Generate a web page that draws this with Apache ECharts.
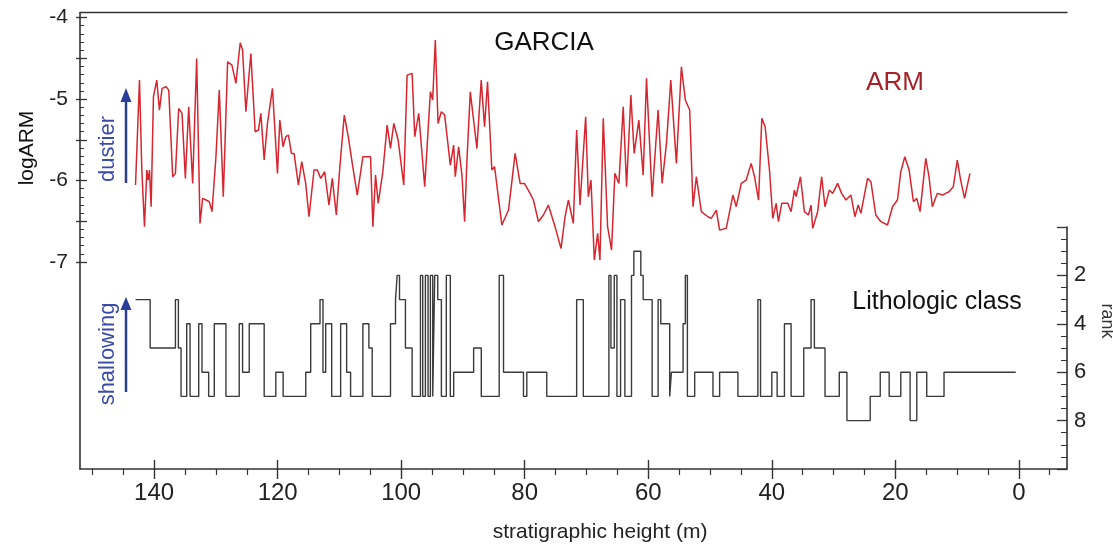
<!DOCTYPE html>
<html>
<head>
<meta charset="utf-8">
<script src="https://cdn.jsdelivr.net/npm/echarts@6/dist/echarts.min.js"></script>
<style>html,body{margin:0;padding:0;background:#fff}#c{width:1113px;height:545px}</style>
</head>
<body>
<div id="c"></div>
<script>
// ARM record (stratigraphic height in m, logARM)
const armHeight = [143.01,142.37,141.99,141.56,141.18,140.97,140.75,140.48,140.11,139.57,139.14,138.71,138.06,137.63,136.99,136.55,136.02,135.48,134.94,134.40,133.76,133.11,132.57,132.14,131.60,131.06,130.63,129.99,129.45,128.80,128.10,127.40,126.76,126.06,125.68,125.14,124.34,123.64,123.10,122.72,122.18,121.65,120.84,120.03,119.65,119.12,118.69,118.25,117.77,117.34,116.64,116.10,115.46,114.92,114.11,113.57,113.03,112.39,111.69,111.15,110.50,109.97,109.21,108.57,107.92,107.11,106.20,105.50,104.96,104.58,104.15,103.72,102.97,102.27,101.73,101.19,100.49,99.58,99.04,98.23,97.80,97.16,96.19,95.27,94.90,94.47,94.03,93.50,92.96,92.04,91.50,91.24,90.70,90.16,89.73,89.35,88.81,87.74,87.04,86.50,86.02,85.32,84.88,83.70,82.62,81.55,80.74,80.04,79.13,78.59,77.78,76.97,76.17,75.09,74.12,73.47,72.93,72.13,71.59,71.05,70.13,69.70,69.27,68.73,68.19,67.82,67.28,66.58,65.94,65.40,64.75,64.05,63.51,62.81,62.28,61.52,60.82,60.28,59.37,58.40,57.75,57.05,56.35,55.44,54.63,53.99,53.29,52.75,52.21,51.40,50.33,49.79,48.98,48.44,47.37,46.29,45.75,44.94,44.14,43.33,42.79,42.52,42.14,41.61,41.07,40.37,39.83,39.29,38.92,38.38,37.41,36.87,36.33,36.06,35.36,34.72,34.07,33.64,33.37,32.57,31.92,31.38,30.68,30.14,29.34,28.69,27.99,27.18,26.54,26.00,25.57,24.49,23.95,23.15,22.34,21.26,20.45,19.65,19.11,18.46,17.76,17.06,16.53,15.99,15.07,14.54,14.00,13.19,12.38,11.31,10.61,9.96,9.42,8.78,7.92];
const armValue = [-6.055,-4.767,-5.871,-6.566,-5.871,-5.994,-5.871,-6.321,-4.971,-4.767,-5.135,-4.869,-4.849,-4.890,-5.953,-5.912,-5.115,-5.176,-5.973,-5.094,-6.035,-4.501,-6.526,-6.219,-6.239,-6.260,-6.382,-5.708,-4.890,-6.198,-4.542,-4.583,-4.808,-4.309,-4.399,-5.155,-4.440,-5.401,-5.380,-5.176,-5.748,-5.299,-4.869,-5.912,-5.258,-5.585,-5.462,-5.442,-5.667,-5.667,-6.055,-5.769,-6.035,-6.444,-5.871,-5.871,-5.973,-5.892,-6.301,-5.973,-6.423,-5.871,-5.196,-5.462,-5.789,-6.178,-5.708,-5.708,-5.708,-6.566,-5.933,-6.280,-5.892,-5.319,-5.605,-5.299,-5.503,-6.055,-4.706,-4.685,-5.462,-5.176,-6.076,-4.910,-5.012,-4.276,-5.299,-5.155,-5.196,-5.810,-5.564,-5.953,-5.585,-5.933,-6.505,-5.748,-4.910,-5.605,-4.767,-5.340,-4.787,-5.871,-5.830,-6.546,-6.362,-5.667,-6.035,-6.035,-6.157,-6.239,-6.505,-6.423,-6.301,-6.566,-6.833,-6.444,-6.239,-6.526,-5.380,-6.301,-5.217,-6.198,-5.994,-6.976,-6.648,-6.976,-5.237,-6.566,-6.853,-5.912,-6.035,-5.094,-6.076,-4.951,-5.667,-5.258,-5.933,-4.746,-6.198,-5.135,-6.035,-5.544,-4.767,-5.789,-4.603,-5.012,-5.135,-6.321,-5.953,-6.382,-6.444,-6.464,-6.362,-6.607,-6.587,-6.178,-6.321,-6.035,-5.994,-5.789,-5.953,-5.973,-6.239,-5.237,-5.340,-5.871,-6.464,-6.280,-6.505,-6.280,-6.280,-6.382,-6.117,-6.198,-5.953,-6.382,-6.423,-6.301,-6.587,-6.382,-5.953,-6.321,-6.117,-6.157,-6.035,-6.157,-6.239,-6.178,-6.444,-6.301,-6.403,-5.973,-6.014,-6.423,-6.505,-6.546,-6.321,-6.239,-5.892,-5.708,-5.871,-6.260,-6.219,-6.382,-5.728,-5.953,-6.321,-6.157,-6.178,-6.137,-6.076,-5.748,-5.994,-6.219,-5.912];

// Lithologic class: boundaries (m) and rank for each interval between them
const litBounds = [143.0,140.64,136.55,136.07,135.64,134.72,134.18,132.78,132.25,131.17,130.26,128.37,126.22,125.68,124.60,122.18,120.30,119.11,115.45,114.65,113.14,112.66,112.22,111.25,109.80,108.83,108.19,106.20,105.23,104.69,101.73,100.92,100.65,100.27,99.31,98.23,96.88,96.51,96.08,95.65,95.27,94.89,94.57,94.08,93.49,92.69,92.04,91.50,88.27,87.03,84.13,83.43,80.20,79.66,76.43,71.59,70.51,66.37,66.04,65.50,65.07,64.48,63.78,62.71,62.33,61.20,60.82,59.37,58.40,57.97,56.52,56.25,54.36,53.99,53.66,52.48,49.52,48.44,45.48,42.25,41.82,39.99,39.13,37.95,36.87,34.82,33.64,33.10,31.38,29.07,27.83,24.06,22.44,20.99,19.11,17.60,16.52,14.91,12.11,0.5];
const litRank = [3,5,3,5,7,4,7,4,6,7,4,7,4,6,4,7,6,7,6,4,3,6,4,7,4,6,7,4,5,7,4,3,2,3,5,7,2,7,2,7,2,7,2,3,7,2,7,6,5,7,2,6,7,6,7,3,7,2,5,2,7,3,7,2,1,2,3,7,3,4,7,6,4,2,7,6,7,6,7,3,7,6,7,4,7,5,3,5,7,6,8,7,6,7,6,8,6,7,6];

// tick values / labels
const heightTicks = [0,20,40,60,80,100,120,140];
const heightMinorTicks = [-5,5,10,15,25,30,35,45,50,55,65,70,75,85,90,95,105,110,115,125,130,135,145,150];
const armTicks = [-7,-6,-5,-4];
const armHalfTicks = [-7,-6.5,-6,-5.5,-5,-4.5,-4];
const armMinorTicks = [];
for (let k = -70; k <= -40; k++) armMinorTicks.push(k / 10);
const rankTicks = [2,4,6,8];

const litData = [];
for (let i = 0; i < litRank.length; i++) {
  litData.push([litBounds[i], litRank[i]]);
  litData.push([litBounds[i + 1], litRank[i]]);
}
const armData = armHeight.map((h, i) => [h, armValue[i]]);

const FONT = '"Liberation Sans", Arial, sans-serif';
const AX = '#333';
const xRange = {min: -7.8, max: 152, inverse: true, type: 'value'};
const yRange = {min: -9.54, max: -3.94, type: 'value'};

const chart = echarts.init(document.getElementById('c'), null, {renderer: 'canvas'});
chart.setOption({
  animation: false,
  backgroundColor: '#ffffff',
  grid: [
    {left: 80, right: 46, top: 12.7, bottom: 76},
    {left: 80, right: 46, top: 227, bottom: 76}
  ],
  xAxis: [
    Object.assign({}, xRange, {gridIndex: 0, position: 'bottom',
      axisLine: {show: true, onZero: false, lineStyle: {color: AX, width: 1.6}},
      axisTick: {show: true, customValues: heightTicks, length: 10, lineStyle: {color: AX, width: 1.4}},
      axisLabel: {customValues: heightTicks, fontSize: 24, margin: 12, color: '#222', fontFamily: FONT},
      splitLine: {show: false}}),
    Object.assign({}, xRange, {gridIndex: 0, position: 'bottom',
      axisLine: {show: false, onZero: false},
      axisTick: {show: true, inside: true, customValues: heightTicks, length: 9, lineStyle: {color: AX, width: 1.4}},
      axisLabel: {show: false}, splitLine: {show: false}}),
    Object.assign({}, xRange, {gridIndex: 0, position: 'bottom',
      axisLine: {show: false, onZero: false},
      axisTick: {show: true, customValues: heightMinorTicks, length: 6, lineStyle: {color: AX, width: 1.2}},
      axisLabel: {show: false}, splitLine: {show: false}}),
    Object.assign({}, xRange, {gridIndex: 0, position: 'top',
      axisLine: {show: true, onZero: false, lineStyle: {color: AX, width: 1.4}},
      axisTick: {show: false}, axisLabel: {show: false}, splitLine: {show: false}}),
    Object.assign({}, xRange, {gridIndex: 1, show: false, splitLine: {show: false}})
  ],
  yAxis: [
    Object.assign({}, yRange, {gridIndex: 0, position: 'left',
      axisLine: {show: true, onZero: false, lineStyle: {color: AX, width: 1.6}},
      axisTick: {show: true, customValues: armHalfTicks, length: 4, lineStyle: {color: AX, width: 1.3}},
      axisLabel: {customValues: armTicks, fontSize: 21, margin: 12, color: '#222', fontFamily: FONT},
      splitLine: {show: false}}),
    Object.assign({}, yRange, {gridIndex: 0, position: 'left',
      axisLine: {show: false, onZero: false},
      axisTick: {show: true, inside: true, customValues: armHalfTicks, length: 7, lineStyle: {color: AX, width: 1.3}},
      axisLabel: {show: false}, splitLine: {show: false}}),
    Object.assign({}, yRange, {gridIndex: 0, position: 'left',
      axisLine: {show: false, onZero: false},
      axisTick: {show: true, inside: true, customValues: armMinorTicks, length: 4, lineStyle: {color: AX, width: 1}},
      axisLabel: {show: false}, splitLine: {show: false}}),
    {type: 'value', gridIndex: 1, position: 'right', min: 0, max: 10, interval: 2, inverse: true,
      axisLine: {show: true, onZero: false, lineStyle: {color: AX, width: 1.6}},
      axisTick: {show: true, inside: true, length: 10, lineStyle: {color: AX, width: 1.3}},
      minorTick: {show: true, splitNumber: 4, length: 6, lineStyle: {color: AX, width: 1}},
      axisLabel: {customValues: rankTicks, fontSize: 22, margin: 7, color: '#222', fontFamily: FONT},
      splitLine: {show: false}, minorSplitLine: {show: false}}
  ],
  series: [
    {name: 'ARM', type: 'line', xAxisIndex: 0, yAxisIndex: 0, data: armData,
      showSymbol: false, symbol: 'none', smooth: false,
      lineStyle: {color: '#d6262f', width: 1.5}},
    {name: 'Lithologic class', type: 'line', xAxisIndex: 4, yAxisIndex: 3, data: litData,
      showSymbol: false, symbol: 'none',
      lineStyle: {color: '#3a3a3a', width: 1.4}}
  ],
  graphic: [
    {type: 'text', x: 544, y: 43, style: {text: 'GARCIA', font: '26px ' + FONT, fill: '#111', textAlign: 'center', textVerticalAlign: 'middle'}},
    {type: 'text', x: 895, y: 83, style: {text: 'ARM', font: '26px ' + FONT, fill: '#a3232b', textAlign: 'center', textVerticalAlign: 'middle'}},
    {type: 'text', x: 937, y: 302, style: {text: 'Lithologic class', font: '25px ' + FONT, fill: '#111', textAlign: 'center', textVerticalAlign: 'middle'}},
    {type: 'text', x: 27, y: 148, rotation: Math.PI / 2, style: {text: 'logARM', font: '21px ' + FONT, fill: '#111', textAlign: 'center', textVerticalAlign: 'middle'}},
    {type: 'text', x: 108, y: 149, rotation: Math.PI / 2, style: {text: 'dustier', font: '22px ' + FONT, fill: '#3b4ba8', textAlign: 'center', textVerticalAlign: 'middle'}},
    {type: 'text', x: 108, y: 354, rotation: Math.PI / 2, style: {text: 'shallowing', font: '22px ' + FONT, fill: '#3b4ba8', textAlign: 'center', textVerticalAlign: 'middle'}},
    {type: 'text', x: 1107, y: 321, rotation: -Math.PI / 2, style: {text: 'rank', font: '18px ' + FONT, fill: '#333', textAlign: 'center', textVerticalAlign: 'middle'}},
    {type: 'text', x: 600, y: 532, style: {text: 'stratigraphic height (m)', font: '21px ' + FONT, fill: '#222', textAlign: 'center', textVerticalAlign: 'middle'}},
    {type: 'line', shape: {x1: 126, y1: 183, x2: 126, y2: 100}, style: {stroke: '#2c3f98', lineWidth: 2.5}},
    {type: 'polygon', shape: {points: [[120.5, 102], [126, 88], [131.5, 102]]}, style: {fill: '#2c3f98'}},
    {type: 'line', shape: {x1: 126, y1: 392, x2: 126, y2: 308}, style: {stroke: '#2c3f98', lineWidth: 2.5}},
    {type: 'polygon', shape: {points: [[120.5, 310], [126, 297], [131.5, 310]]}, style: {fill: '#2c3f98'}}
  ]
});
</script>
</body>
</html>
